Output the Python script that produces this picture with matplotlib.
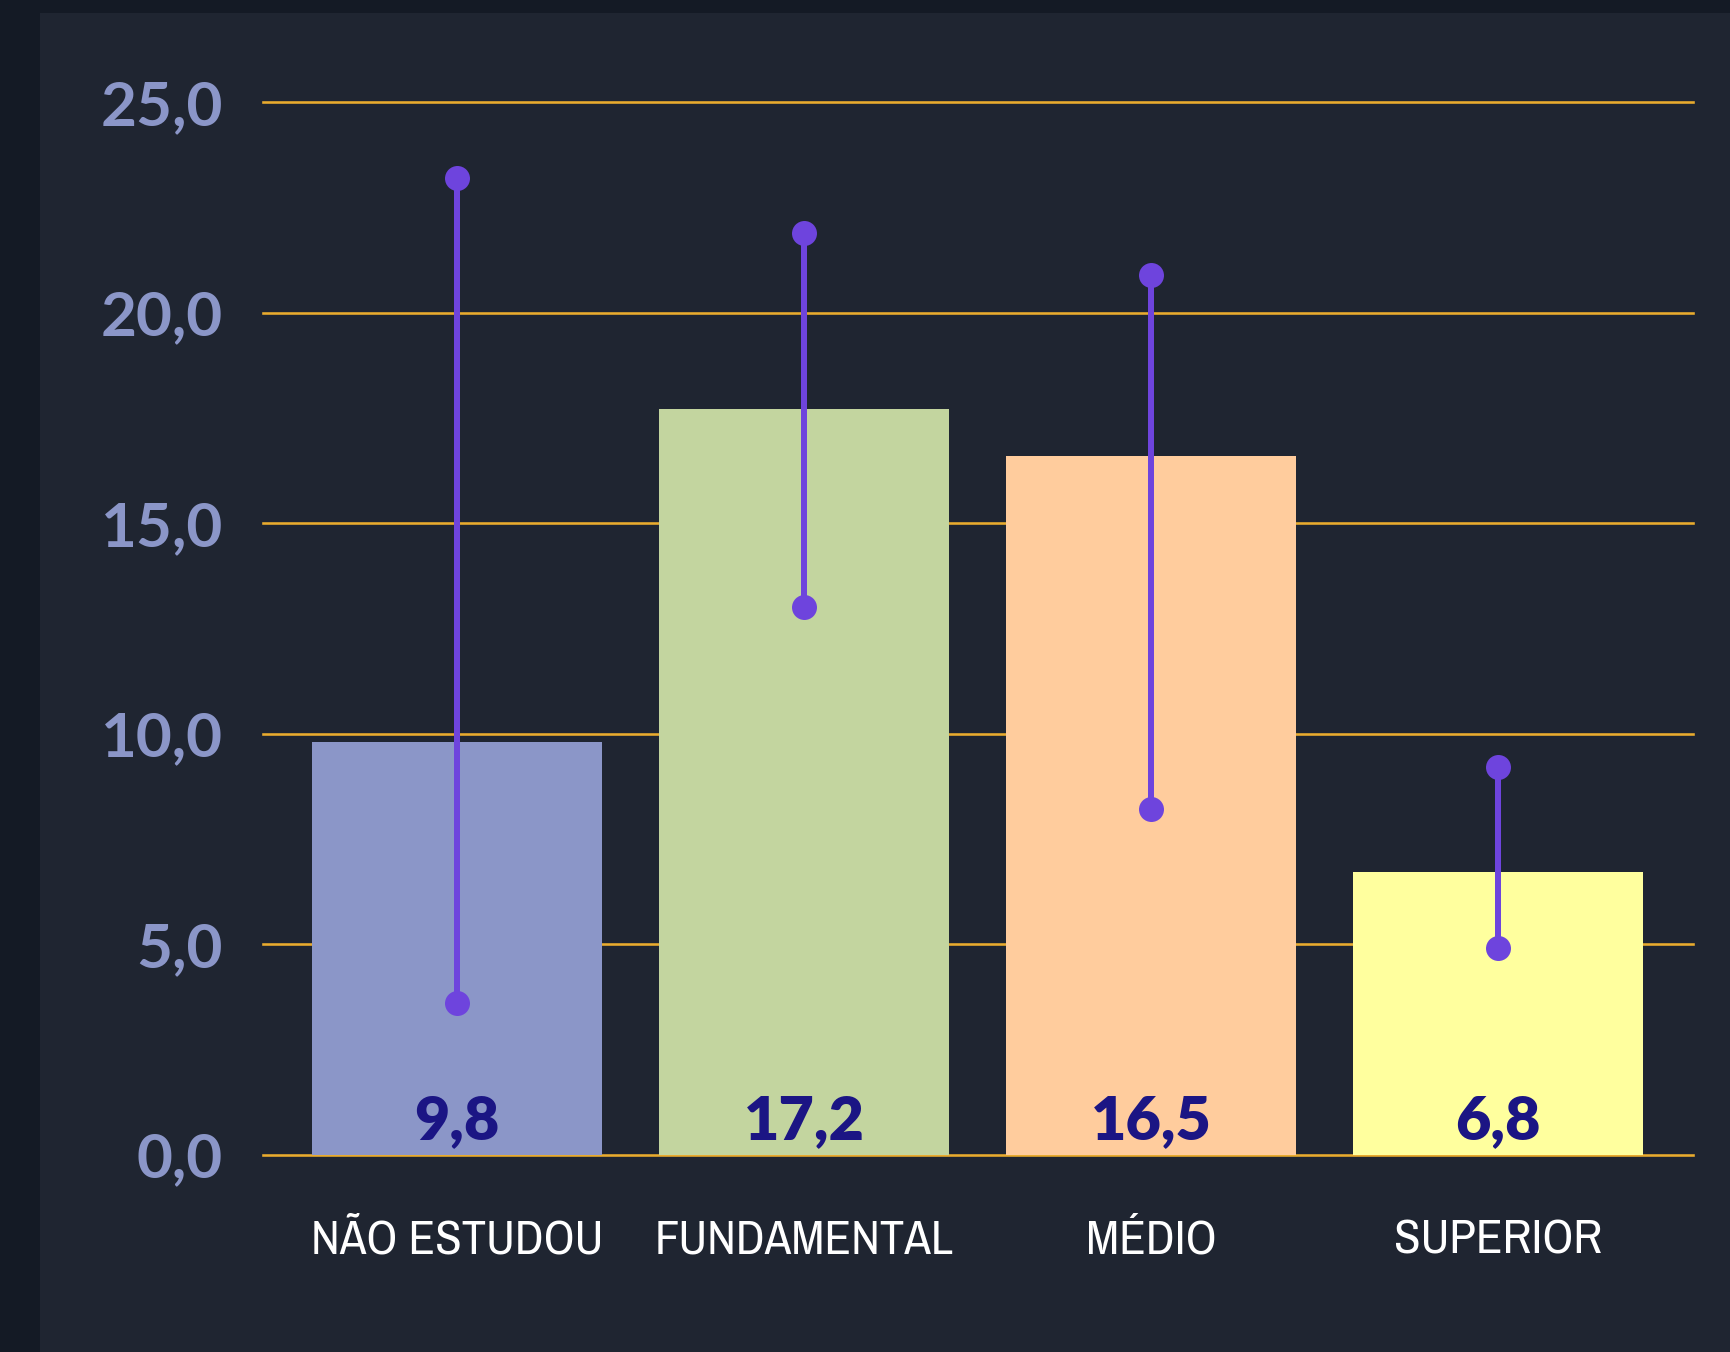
import matplotlib
matplotlib.use("Agg")
import matplotlib.pyplot as plt
from matplotlib import font_manager as fm
from matplotlib.patches import Rectangle

# ---------------- data ----------------
categories = ["NÃO ESTUDOU", "FUNDAMENTAL", "MÉDIO", "SUPERIOR"]
bar_values = [9.8, 17.7, 16.6, 6.7]
value_labels = ["9,8", "17,2", "16,5", "6,8"]
range_low = [3.6, 13.0, 8.2, 4.9]
range_high = [23.2, 21.9, 20.9, 9.2]
y_ticks = [0, 5, 10, 15, 20, 25]
y_tick_labels = ["0,0", "5,0", "10,0", "15,0", "20,0", "25,0"]

bar_colors = ["#8b96c8", "#c3d59f", "#ffcc9d", "#ffff9e"]
panel_bg = "#1f2531"
outer_bg = "#141a25"
grid_color = "#e9ab2e"
tick_color = "#8b96c8"
value_color = "#1b1584"
range_color = "#6e44dd"

W, H, DPI = 1731, 1352, 100


def px(p):  # pixels -> points
    return p * 72.0 / DPI


# ---------- pick a condensed font for the category labels ----------
def pick_condensed():
    order = {"ultra-condensed": 0, "extra-condensed": 1, "condensed": 2,
             "semi-condensed": 3}
    best = None
    for f in fm.fontManager.ttflist:
        st = str(f.stretch)
        name = f.name
        rank = None
        if "Narrow" in name:
            rank = 1.5
        elif st in order:
            rank = order[st]
        elif "Condensed" in name:
            rank = 2
        if rank is None:
            continue
        if "Mono" in name or "Serif" in name or "CJK" in name:
            continue
        if f.style != "normal":
            continue
        w = f.weight if isinstance(f.weight, int) else 400
        wscore = abs(w - 350)
        key = (rank, wscore)
        if best is None or key < best[0]:
            best = (key, f.fname)
    return best[1] if best else None


cond_path = pick_condensed()
if cond_path:
    cat_fp = fm.FontProperties(fname=cond_path)
else:
    cat_fp = fm.FontProperties(family="DejaVu Sans")

num_family = ["Lato", "DejaVu Sans"]

fig = plt.figure(figsize=(W / DPI, H / DPI), dpi=DPI, facecolor=panel_bg)

# outer dark frame (top and left strips)
fig.patches.append(Rectangle((0, 1 - 13 / H), 1, 13 / H, transform=fig.transFigure,
                             facecolor=outer_bg, edgecolor="none", zorder=0))
fig.patches.append(Rectangle((0, 0), 40 / W, 1, transform=fig.transFigure,
                             facecolor=outer_bg, edgecolor="none", zorder=0))

# axes placement (pixels)
x_left, x_right = 263, 1693
y_zero, y_25 = 1154.5, 102.0
ppu = (y_zero - y_25) / 25.0
ymax = 25.6
y_top = y_zero - ymax * ppu
ax = fig.add_axes([x_left / W, 1 - y_zero / H, (x_right - x_left) / W, (y_zero - y_top) / H])
ax.set_facecolor("none")
ax.set_xlim(-0.559, 3.561)
ax.set_ylim(0, ymax)
for s in ax.spines.values():
    s.set_visible(False)

x = list(range(len(categories)))

# gridlines
for t in y_ticks:
    ax.axhline(t, color=grid_color, lw=px(2.6), zorder=1, clip_on=False)

# bars
ax.bar(x, bar_values, width=0.835, color=bar_colors, zorder=2)

# ranges
ax.vlines(x, range_low, range_high, color=range_color, lw=px(6), zorder=3)
ax.plot(x, range_low, "o", color=range_color, ms=px(25), mew=0, zorder=4)
ax.plot(x, range_high, "o", color=range_color, ms=px(25), mew=0, zorder=4)

# value labels inside bars
for xi, lab in zip(x, value_labels):
    ax.annotate(lab, xy=(xi, 0), xytext=(0, 15.5), textcoords="offset pixels",
                ha="center", va="baseline", color=value_color,
                fontsize=px(61), fontweight="heavy", family=num_family, zorder=5)

# y ticks
ax.set_xticks([])
ax.set_yticks(y_ticks)
ax.set_yticklabels(y_tick_labels)
ax.tick_params(axis="y", length=0, pad=px(40))
for lbl in ax.get_yticklabels():
    lbl.set_color(tick_color)
    lbl.set_fontsize(px(62))
    lbl.set_fontweight("bold")
    lbl.set_family(num_family)
    lbl.set_verticalalignment("center_baseline")

# category labels, sized to fit the reference width of "FUNDAMENTAL" (~276 px)
fig.canvas.draw()
renderer = fig.canvas.get_renderer()
size = px(60)
probe = fig.text(0, 0, "FUNDAMENTAL", fontproperties=cat_fp, fontsize=size)
wpx = probe.get_window_extent(renderer).width
probe.remove()
if wpx > 300:
    size = size * 300 / wpx
size = max(size, px(46))

for xi, lab in zip(x, categories):
    t = ax.annotate(lab, xy=(xi, 0), xytext=(0, -98.5), textcoords="offset pixels",
                    ha="center", va="baseline", color="white",
                    fontproperties=cat_fp, annotation_clip=False)
    t.set_fontsize(size)

fig.savefig("out.png", dpi=DPI, facecolor=panel_bg)
